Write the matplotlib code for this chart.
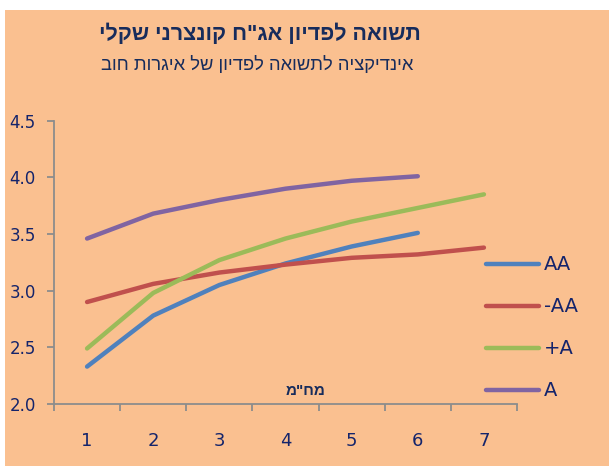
import matplotlib
matplotlib.use("Agg")
import matplotlib.pyplot as plt
from matplotlib.patches import Rectangle

# ---- data ----
categories = [1, 2, 3, 4, 5, 6, 7]
series_names = ["AA", "-AA", "+A", "A"]
aa = [2.33, 2.78, 3.05, 3.24, 3.39, 3.51]
aa_minus = [2.90, 3.06, 3.16, 3.23, 3.29, 3.32, 3.38]
a_plus = [2.49, 2.98, 3.27, 3.46, 3.61, 3.73, 3.85]
a = [3.46, 3.68, 3.80, 3.90, 3.97, 4.01]
y_ticks = [2.0, 2.5, 3.0, 3.5, 4.0, 4.5]
title = 'תשואה לפדיון אג"ח קונצרני שקלי'
subtitle = 'אינדיקציה לתשואה לפדיון של איגרות חוב'
x_label = 'מח"מ'


def vis(s):
    # Hebrew is right-to-left; matplotlib lays glyphs left-to-right
    return s[::-1]


colors = ["#4F81BD", "#C0504D", "#9BBB59", "#8064A2"]
bg = "#FAC090"
txt = "#14246B"
title_col = "#172C5C"
axis_col = "#8C8C8C"

plt.rcParams["font.family"] = ["DejaVu Sans"]
heb = ["Liberation Sans", "DejaVu Sans"]

W, H = 609, 466
fig = plt.figure(figsize=(W / 100, H / 100), dpi=100, facecolor="white")
fig.patches.append(Rectangle((5 / W, 0), 1 - 5 / W, (H - 10) / H,
                             transform=fig.transFigure, facecolor=bg,
                             edgecolor="none", zorder=-10))

ax = fig.add_axes([54 / W, 1 - 404 / H, (517 - 54) / W, (404 - 120.7) / H])
ax.set_facecolor("none")

all_series = [aa, aa_minus, a_plus, a]
for name, vals, c in zip(series_names, all_series, colors):
    ax.plot(categories[:len(vals)], vals, color=c, lw=3.2,
            solid_capstyle="round", label=name)

ax.set_xlim(0.5, 7.5)
ax.set_ylim(2.0, 4.5)
ax.set_yticks(y_ticks)
ax.set_yticklabels([f"{v:.1f}" for v in y_ticks], fontsize=12, color=txt)
ax.set_xticks(categories)
ax.set_xticklabels([str(c) for c in categories], fontsize=13, color=txt)
ax.set_xticks([c - 0.5 for c in categories] + [7.5], minor=True)
ax.tick_params(axis="x", which="major", length=0, pad=20)
ax.tick_params(axis="x", which="minor", length=5, color=axis_col, width=1.3)
ax.tick_params(axis="y", length=5, color=axis_col, width=1.3, pad=8)

for s in ["top", "right"]:
    ax.spines[s].set_visible(False)
for s in ["left", "bottom"]:
    ax.spines[s].set_color(axis_col)
    ax.spines[s].set_linewidth(1.3)

leg = ax.legend(loc="upper left", bbox_to_anchor=(469 / W, 1 - 238 / H),
                bbox_transform=fig.transFigure, frameon=False, fontsize=14,
                handlelength=2.7, handletextpad=0.25, labelspacing=1.18,
                labelcolor=txt)

fig.text(260 / W, 1 - 34 / H, vis(title), ha="center", va="center",
         fontsize=15.5, fontweight="bold", color=title_col, family=heb)
fig.text(257 / W, 1 - 65 / H, vis(subtitle), ha="center", va="center",
         fontsize=13.2, color=title_col, family=heb)
fig.text(306 / W, 1 - 391 / H, vis(x_label), ha="center", va="center",
         fontsize=11, fontweight="bold", color=title_col, family=heb)

fig.savefig("out.png", dpi=100, facecolor="white")
